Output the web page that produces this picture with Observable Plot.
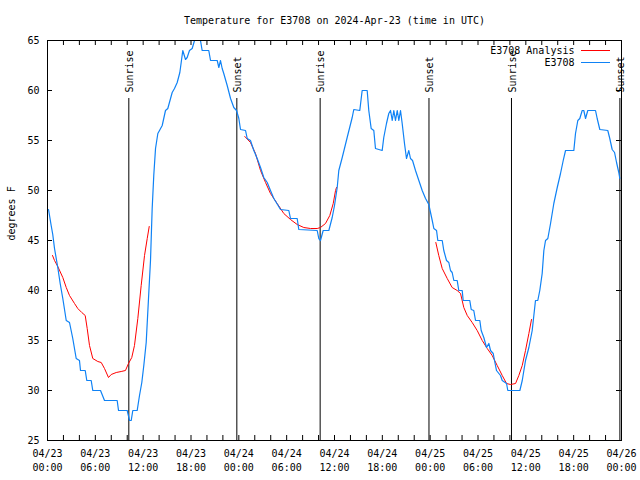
<!DOCTYPE html>
<html><head><meta charset="utf-8">
<script src="https://cdn.jsdelivr.net/npm/d3@7"></script>
<script src="https://cdn.jsdelivr.net/npm/@observablehq/plot@0.6"></script>
<style>body{margin:0;background:#fff}svg{display:block}</style>
</head><body><div id="chart"></div>
<script>
// Hours since 2024-04-23 00:00 UTC
const blueHours = [0.13,0.46,0.66,0.88,1.29,1.59,1.92,2.35,2.76,3.17,3.6,4.01,4.14,4.73,4.93,5.48,5.68,6.65,7.15,8.74,8.91,10.0,10.29,10.5,10.7,11.25,11.54,11.83,12.08,12.38,12.67,12.92,13.13,13.33,13.55,13.84,14.05,14.39,14.8,15.09,15.64,15.93,16.27,16.6,16.77,16.97,17.31,17.52,17.81,18.15,18.44,19.19,19.4,20.23,20.45,21.29,21.49,21.7,21.91,22.11,22.54,22.96,23.37,23.71,24.0,24.21,24.84,25.05,25.46,25.88,26.3,26.72,27.13,27.56,27.97,28.39,29.23,30.27,30.48,31.32,31.52,33.83,34.03,34.24,34.58,35.29,35.71,36.0,36.34,36.54,36.97,37.59,38.22,38.42,39.17,39.47,40.1,40.3,40.6,40.93,41.14,41.98,42.18,42.52,42.81,43.03,43.24,43.44,43.65,43.87,44.07,44.28,44.49,44.78,45.03,45.32,45.53,45.79,46.16,46.58,47.0,47.42,47.83,48.26,48.46,48.8,48.96,49.51,49.71,50.05,50.34,50.55,50.76,50.97,51.39,51.59,52.02,52.14,52.97,53.15,53.47,53.69,54.23,54.4,54.73,55.07,55.36,55.57,55.91,56.07,56.32,56.82,57.04,57.58,57.74,59.25,59.55,59.96,60.38,60.8,61.21,61.5,61.75,62.05,62.26,62.47,62.76,63.1,63.51,63.94,64.35,64.69,64.98,66.02,66.23,66.52,66.77,67.07,67.27,67.49,67.77,68.74,68.95,69.28,70.28,70.53,70.83,71.13,71.38,71.66,71.79];
const blueTemps = [48.1,46.5,45.6,44.2,42.3,40.7,39.2,37,36.8,35.2,33.2,33,32,32,31,31,30,30,29,29,28,28,27,27,28,28,29.5,30.8,32.5,34.8,39.2,43,48.2,51.5,54.2,55.7,56,56.5,58,58.2,59.8,60.2,60.8,61.8,62.8,64,63.1,63.3,64,64.2,65,65,64,64,63,63,62.3,63,62.2,61.7,60.5,59.2,58.3,58,57.2,56.1,56,55.2,55,54,53.2,52.3,51.3,50.8,50,49.2,48.1,48,47.2,47.2,46.1,46,45.2,45,46,46,47.3,48.5,50.3,52,53.3,55.3,57.3,58.1,58,60,60,58,56.2,56,54.2,54,55.3,56.7,57.7,58,57,58,57,58,57,58,56.7,54.7,53.2,54,53.2,53,52,51,50,49.2,48.6,47,46.2,46,45,45,44,43,42.8,42,41.8,41,41,40,40,39,39,38.1,38,37,37,36,35.3,34.3,34.7,34,33.7,33,32,31.5,31,30.7,30,30,31,33,34.3,36,39,39,40,41.7,44,45,45.2,46.7,48.7,50.3,51.7,53,54,54,55.7,57,57.2,58,58,57.2,58,58,57.2,56.1,56,55.2,54.1,53.8,52.8,51.8,51.2];

const red1Hours = [0.63,0.88,1.29,1.92,2.35,2.76,3.39,3.8,4.3,4.73,4.98,5.27,5.68,6.31,6.74,7.15,7.65,7.99,8.62,9.24,9.78,10.16,10.57,10.91,11.33,11.75,12.17,12.51,12.76];
const red1Temps = [43.5,43,42.4,41.3,40.3,39.5,38.7,38.2,37.8,37.5,36.2,34.5,33.2,32.9,32.8,32.2,31.3,31.6,31.8,31.9,32,32.7,33.3,34.5,37.2,40.5,43.5,45.2,46.4];
const red2Hours = [24.75,25.46,26.09,26.72,27.35,27.97,28.81,29.64,30.48,31.32,32.15,32.99,33.83,34.24,34.87,35.41,35.84,36.13,36.25];
const red2Temps = [55.4,54.8,53.7,52,50.8,49.7,48.7,47.7,47.1,46.6,46.3,46.2,46.2,46.3,46.7,47.5,48.7,50,50.3];
const red3Hours = [48.71,49.08,49.51,50.14,50.76,51.39,51.81,52.22,52.65,53.27,53.9,54.53,55.16,55.78,56.41,57.04,57.58,58.08,58.71,59.12,59.55,59.96,60.38,60.71];
const red3Temps = [44.8,43.5,42.2,41.2,40.3,40,39.7,38.3,37.5,36.8,36,35,34.2,33.5,32.5,31.5,30.7,30.6,30.7,31.5,32.5,34,35.7,37.1];

const sunHours = [10.2,23.75,34.2,47.85,58.2,71.8];
const sunLabels = ["Sunrise","Sunset","Sunrise","Sunset","Sunrise","Sunset"];

const yTicks = [25,30,35,40,45,50,55,60,65];
const labelHours = [0,6,12,18,24,30,36,42,48,54,60,66,72];
const tickHours = d3.range(0, 73, 2);

const title = "Temperature for E3708 on 2024-Apr-23 (time in UTC)";
const yLabel = "degrees F";
const seriesNames = ["E3708 Analysis","E3708"];
const redColor = "#ff0000", blueColor = "#0f82f5";

const start = Date.UTC(2024,3,23);
const t = h => new Date(start + h*3600000);
const blue = blueHours.map((h,i)=>({time:t(h), temp:blueTemps[i]}));
const red = [[red1Hours,red1Temps],[red2Hours,red2Temps],[red3Hours,red3Temps]]
  .flatMap(([hs,ts],k)=>hs.map((h,i)=>({time:t(h), temp:ts[i], seg:k})));
const sun = sunHours.map((h,i)=>({time:t(h), label:sunLabels[i]}));
const fmt = d3.utcFormat("%m/%d\n%H:%M");
const font = "DejaVu Sans Mono";

const chart = Plot.plot({
  width:640, height:480,
  marginLeft:47, marginRight:19, marginTop:40, marginBottom:40,
  style:{fontFamily:font, fontSize:"10px", background:"white", color:"black"},
  x:{type:"utc", domain:[t(0), t(72)], axis:null},
  y:{domain:[25,65], axis:null},
  marks:[
    Plot.ruleX(sun, {x:"time", insetTop:58, stroke:"black", strokeWidth:1}),
    Plot.text(sun, {x:"time", text:"label", frameAnchor:"top", dy:52, rotate:-90, textAnchor:"start", lineAnchor:"middle", dx:1, fontSize:10, fill:"black"}),
    Plot.line(red, {x:"time", y:"temp", z:"seg", stroke:redColor, strokeWidth:1}),
    Plot.line(blue, {x:"time", y:"temp", stroke:blueColor, strokeWidth:1.2}),
    Plot.tickX(tickHours.map(t), {x:d=>d, insetTop:395, stroke:"black"}),
    Plot.tickX(tickHours.map(t), {x:d=>d, insetBottom:395, stroke:"black"}),
    Plot.tickY(yTicks, {y:d=>d, insetRight:569, stroke:"black"}),
    Plot.tickY(yTicks, {y:d=>d, insetLeft:569, stroke:"black"}),
    Plot.frame({stroke:"black"}),
    Plot.text(yTicks, {y:d=>d, text:d=>String(d), frameAnchor:"left", textAnchor:"end", dx:-8, fontSize:10, fill:"black"}),
    Plot.text(labelHours.map(t), {x:d=>d, text:d=>fmt(d), frameAnchor:"bottom", lineAnchor:"top", dy:7, lineHeight:1.4, fontSize:10, fill:"black"}),
    Plot.text([title], {frameAnchor:"top", lineAnchor:"middle", dy:-20, fontSize:10, fill:"black"}),
    Plot.text([yLabel], {frameAnchor:"left", rotate:-90, dx:-36, fontSize:10, fill:"black"}),
    Plot.text([seriesNames[0]], {frameAnchor:"top-right", lineAnchor:"middle", textAnchor:"end", dx:-47, dy:10, fontSize:10, fill:"black"}),
    Plot.text([seriesNames[1]], {frameAnchor:"top-right", lineAnchor:"middle", textAnchor:"end", dx:-47, dy:22, fontSize:10, fill:"black"}),
    Plot.ruleY([65], {dy:10, insetLeft:534, insetRight:11, stroke:redColor}),
    Plot.ruleY([65], {dy:22, insetLeft:534, insetRight:11, stroke:blueColor})
  ]
});
document.getElementById("chart").append(chart);
</script>
</body></html>
